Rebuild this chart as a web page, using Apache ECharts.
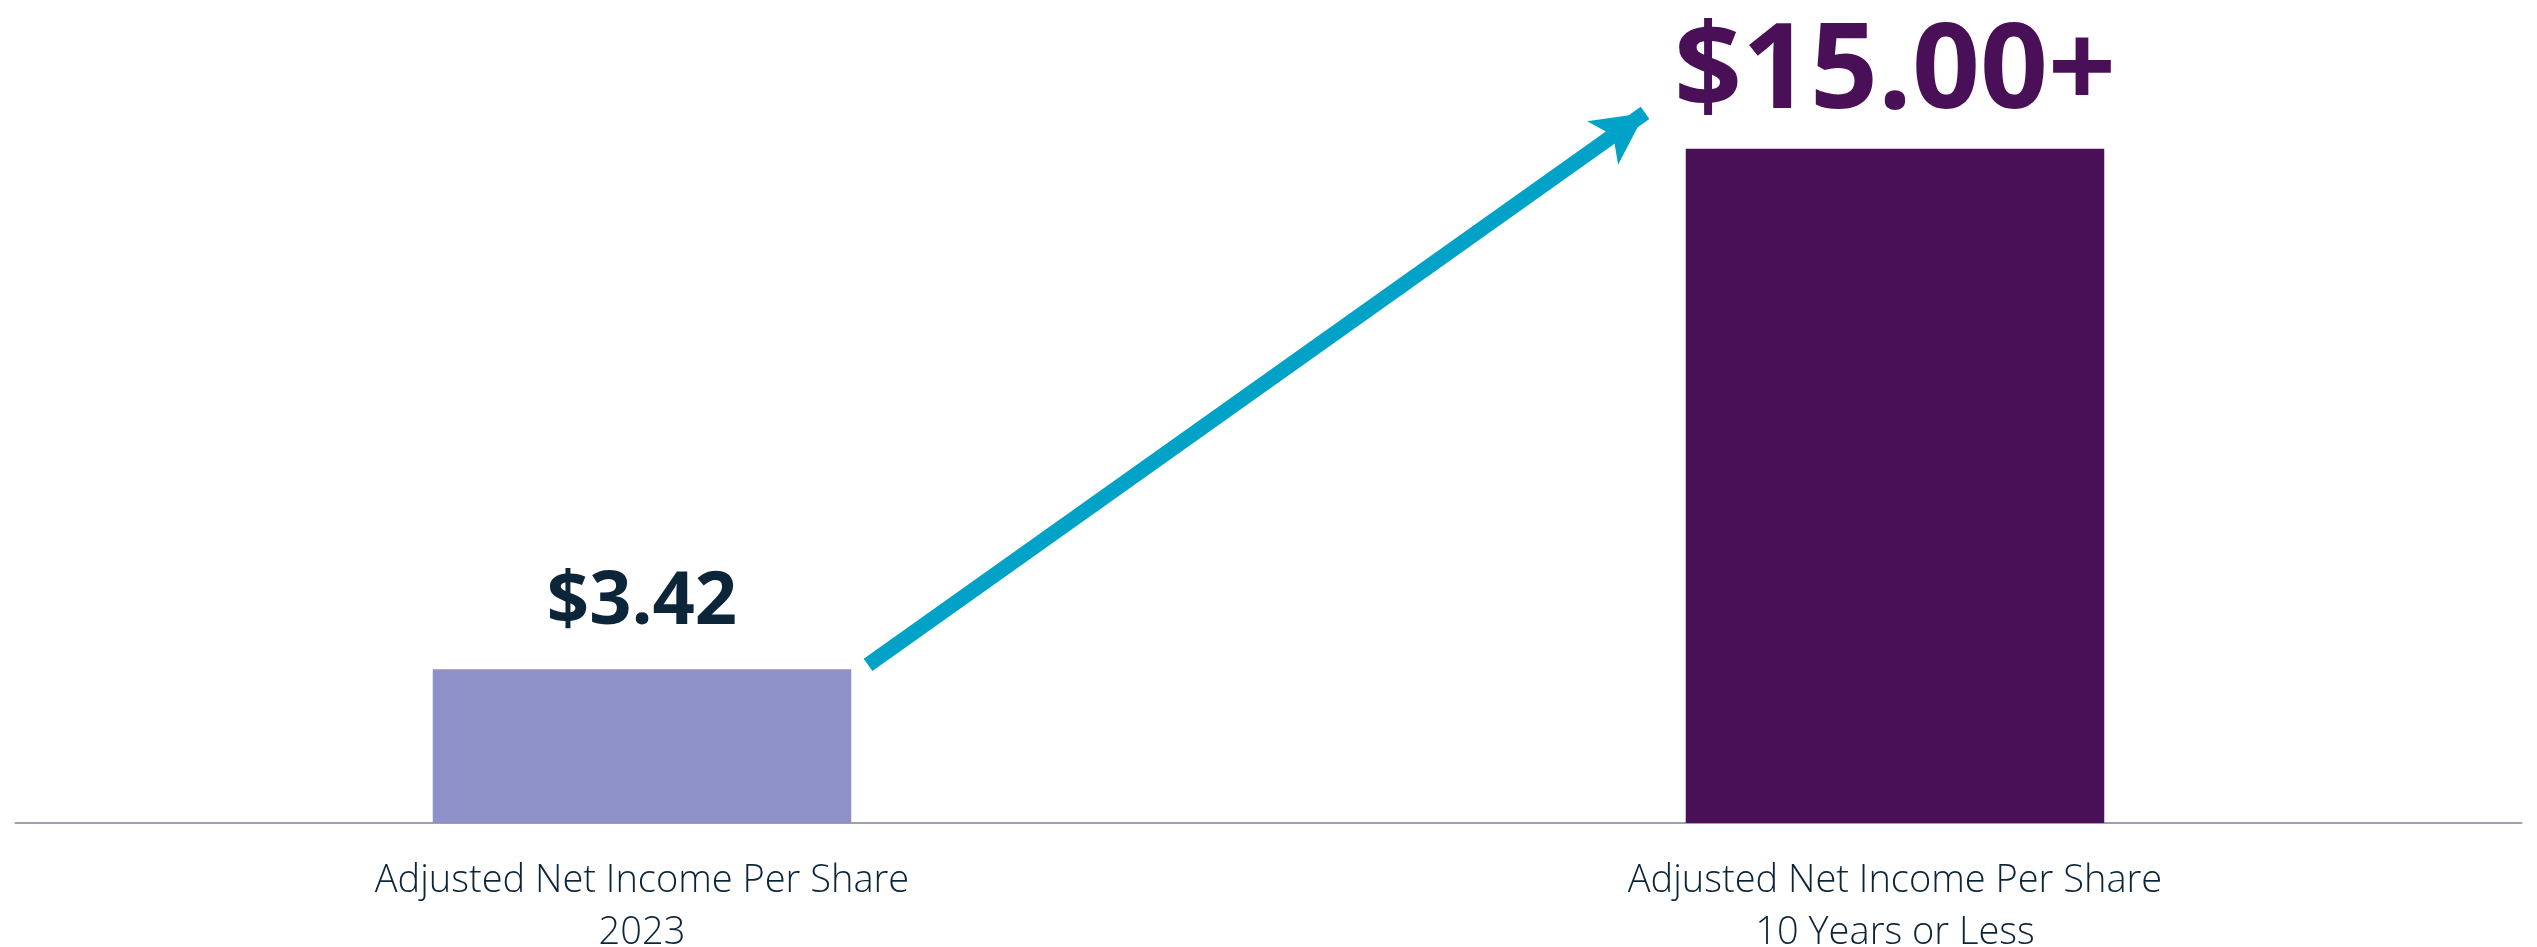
<!DOCTYPE html>
<html>
<head>
<meta charset="utf-8">
<script src="https://cdn.jsdelivr.net/npm/echarts@6/dist/echarts.min.js"></script>
<style>
  html, body { margin: 0; padding: 0; background: #fff; }
  #chart { width: 2537px; height: 947px; }
</style>
</head>
<body>
<div id="chart"></div>
<script>
// 数据
const categories = ['Adjusted Net Income Per Share\n2023', 'Adjusted Net Income Per Share\n10 Years or Less']
const values = [3.42, 15.0]
const valueLabels = ['$3.42', '$15.00+']
const barColors = ['#8e91c7', '#4a1057']
const labelColors = ['#0c2538', '#4a1057']
// 箭头起止点（x 为类目位置 0..2，y 为数值）
const arrowFrom = [0.6804, 3.52]
const arrowTo = [1.3005, 15.8]

const chart = echarts.init(document.getElementById('chart'), null, { renderer: 'canvas' })

const option = {
  backgroundColor: '#ffffff',
  animation: false,
  grid: { left: 15.5, right: 15.5, top: 14, bottom: 124, containLabel: false, outerBoundsMode: 'none' },
  xAxis: [
    {
      type: 'category', data: categories,
      axisLine: { lineStyle: { color: '#9aa3ac', width: 2 } },
      axisTick: { show: false },
      axisLabel: {
        color: '#0c2538', fontSize: 38, lineHeight: 52, margin: 32,
        fontFamily: 'Open Sans', fontWeight: 300,
      },
    },
    { type: 'value', min: 0, max: 2, show: false },
  ],
  yAxis: {
    type: 'value', min: 0, max: 18, show: false,
  },
  series: [
    {
      type: 'bar', data: values.map((v, i) => ({
        value: v,
        itemStyle: { color: barColors[i] },
        label: {
          show: true, position: 'top', formatter: valueLabels[i],
          color: labelColors[i], fontFamily: 'Open Sans', fontWeight: 'bold',
          fontSize: i === 0 ? 74 : 119, distance: i === 0 ? 29 : 15,
        },
      })),
      barWidth: '33.4%',
    },
    {
      type: 'line', xAxisIndex: 1, data: [], silent: true, clip: false,
      markLine: {
        silent: true, animation: false,
        symbol: ['none', 'arrow'], symbolSize: [40, 52],
        label: { show: false },
        lineStyle: { color: '#00a3c7', width: 15, type: 'solid' },
        data: [[{ coord: arrowFrom }, { coord: arrowTo }]],
      },
    },
  ],
}

chart.setOption(option)
</script>
</body>
</html>
